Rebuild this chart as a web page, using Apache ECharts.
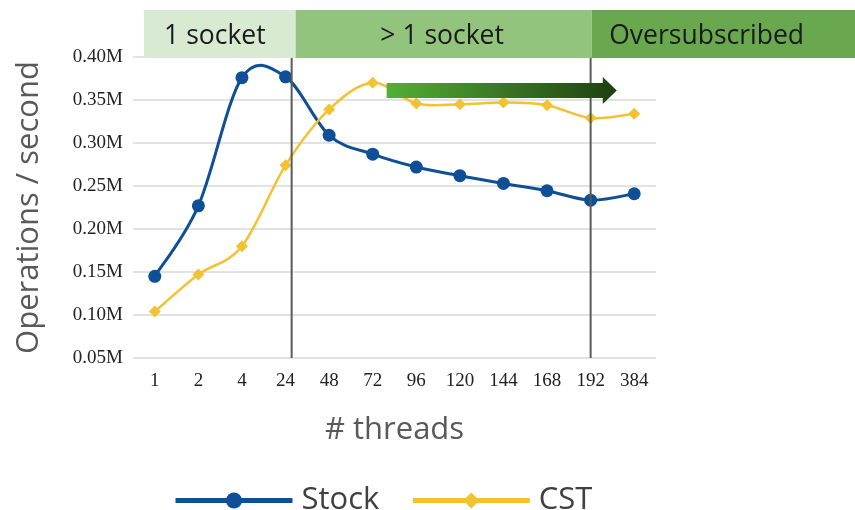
<!DOCTYPE html>
<html>
<head>
<meta charset="utf-8">
<script src="https://cdn.jsdelivr.net/npm/echarts@6/dist/echarts.min.js"></script>
<style>
  html, body { margin: 0; padding: 0; background: #fff; }
  #chart { width: 855px; height: 510px; }
</style>
</head>
<body>
<div id="chart"></div>
<script>
// Thread counts on the x axis
const threads = ['1', '2', '4', '24', '48', '72', '96', '120', '144', '168', '192', '384'];
// Throughput in operations per second
const stockOps = [145000, 227000, 376000, 377000, 309000, 287000, 272000, 262000, 253000, 244500, 233500, 241000];
const cstOps   = [104000, 147000, 180000, 274000, 339000, 370000, 346000, 345000, 347000, 344000, 329000, 334000];
// Y axis range and step
const yMin = 50000, yMax = 400000, yStep = 50000;
// Region banners
const regionLabels = ['1 socket', '> 1 socket', 'Oversubscribed'];

const STOCK_COLOR = '#0e4f96';
const CST_COLOR = '#f2c233';

const chart = echarts.init(document.getElementById('chart'));
const sansFont = '"Open Sans", "Noto Sans", sans-serif';
const serifFont = '"Liberation Serif", "DejaVu Serif", serif';

// Smooth curve through the data points (Catmull-Rom as cubic Bezier segments)
function smoothCurve(values, color, width) {
  return {
    type: 'custom',
    silent: true,
    z: 1,
    data: values.map((v, i) => [i, v]),
    encode: { x: 0, y: 1 },
    renderItem: (params, api) => {
      const i = params.dataIndex;
      const n = values.length;
      if (i >= n - 1) return null;
      const pt = j => {
        const k = Math.max(0, Math.min(n - 1, j));
        return api.coord([k, values[k]]);
      };
      const p0 = pt(i - 1), p1 = pt(i), p2 = pt(i + 1), p3 = pt(i + 2);
      const t = 1 / 6;
      return {
        type: 'bezierCurve',
        shape: {
          x1: p1[0], y1: p1[1], x2: p2[0], y2: p2[1],
          cpx1: p1[0] + (p2[0] - p0[0]) * t, cpy1: p1[1] + (p2[1] - p0[1]) * t,
          cpx2: p2[0] - (p3[0] - p1[0]) * t, cpy2: p2[1] - (p3[1] - p1[1]) * t
        },
        style: { stroke: color, lineWidth: width, fill: null, lineCap: 'round' }
      };
    }
  };
}

chart.setOption({
  animation: false,
  grid: { left: 133, right: 199, top: 57, bottom: 152 },
  legend: {
    data: [
      { name: 'Stock', lineStyle: { color: STOCK_COLOR, width: 5, opacity: 1 } },
      { name: 'CST', lineStyle: { color: CST_COLOR, width: 5, opacity: 1 } }
    ],
    left: 168,
    top: 480,
    itemWidth: 117,
    itemHeight: 20,
    itemGap: 31,
    textStyle: { fontFamily: sansFont, fontSize: 31, color: '#404040', padding: [0, 0, 0, 4] }
  },
  xAxis: {
    type: 'category',
    data: threads,
    boundaryGap: true,
    name: '# threads',
    nameLocation: 'middle',
    nameGap: 57,
    nameTextStyle: { fontFamily: sansFont, fontSize: 31, color: '#595959' },
    axisLine: { show: false },
    axisTick: { show: false },
    axisLabel: { fontFamily: serifFont, fontSize: 19, color: '#222', margin: 14 }
  },
  yAxis: {
    type: 'value',
    min: yMin,
    max: yMax,
    interval: yStep,
    name: 'Operations / second',
    nameLocation: 'middle',
    nameGap: 88,
    nameTextStyle: { fontFamily: sansFont, fontSize: 31, color: '#595959' },
    axisLine: { show: false },
    axisTick: { show: false },
    splitLine: { lineStyle: { color: '#d9d9d9', width: 1.5 } },
    axisLabel: {
      fontFamily: serifFont, fontSize: 19, color: '#222', margin: 10,
      formatter: v => (v / 1e6).toFixed(2) + 'M'
    }
  },
  series: [
    smoothCurve(stockOps, STOCK_COLOR, 3),
    smoothCurve(cstOps, CST_COLOR, 2.5),
    {
      name: 'Stock',
      type: 'line',
      data: stockOps,
      symbol: 'circle',
      symbolSize: 13,
      z: 3,
      itemStyle: { color: STOCK_COLOR },
      lineStyle: { color: STOCK_COLOR, width: 3, opacity: 0 }
    },
    {
      name: 'CST',
      type: 'line',
      data: cstOps,
      symbol: 'diamond',
      symbolSize: 12,
      z: 2,
      itemStyle: { color: CST_COLOR },
      lineStyle: { color: CST_COLOR, width: 2.5, opacity: 0 }
    }
  ]
});

// Region banners, separators and the trend arrow, placed from the axes
function drawAnnotations() {
  const px = (idx, val) => chart.convertToPixel({ gridIndex: 0 }, [idx, val]);
  const band = px(1, yMax)[0] - px(0, yMax)[0];
  const top = px(0, yMax)[1];
  const bottom = px(0, yMin)[1];
  const x24 = px(3, yMax)[0] + band * 0.14;
  const x192 = px(10, yMax)[0];
  const bannerTop = top - 47;
  const bannerLeft = px(0, yMax)[0] - band * 0.25;

  const boxes = [
    { x0: bannerLeft, x1: x24 + 4, fill: '#d9ead3', textX: bannerLeft + 71 },
    { x0: x24 + 4, x1: x192 + 1, fill: '#93c47d', textX: (x24 + x192) / 2 + 1 },
    { x0: x192 + 1, x1: 855, fill: '#6aa84f', textX: x192 + 116 }
  ];

  const graphics = [];
  boxes.forEach((b, k) => {
    graphics.push({
      type: 'rect', z: 5,
      shape: { x: b.x0, y: bannerTop, width: b.x1 - b.x0, height: top - bannerTop + 1 },
      style: { fill: b.fill }
    });
    graphics.push({
      type: 'text', z: 6,
      x: b.textX, y: (bannerTop + top) / 2 + 3,
      style: {
        text: regionLabels[k], fill: '#1a1a1a', font: '26.5px ' + sansFont,
        align: 'center', verticalAlign: 'middle'
      }
    });
  });

  [x24, x192].forEach(x => {
    graphics.push({
      type: 'line', z: 4,
      shape: { x1: x, y1: top, x2: x, y2: bottom },
      style: { stroke: '#5a5a5a', lineWidth: 2 }
    });
  });

  // Gradient arrow across the multi-socket range
  const ax0 = px(5, yMax)[0] + band * 0.32;
  const ax1 = px(10, yMax)[0] + band * 0.6;
  const headX = ax1 - 14;
  const ay = px(0, 361000)[1];
  graphics.push({
    type: 'polygon', z: 7,
    shape: {
      points: [
        [ax0, ay - 7.5], [headX, ay - 7.5], [headX, ay - 13.5], [ax1, ay],
        [headX, ay + 13.5], [headX, ay + 7.5], [ax0, ay + 7.5]
      ]
    },
    style: {
      fill: new echarts.graphic.LinearGradient(0, 0, 1, 0, [
        { offset: 0, color: '#52b034' },
        { offset: 1, color: '#1f3f12' }
      ])
    }
  });

  chart.setOption({ graphic: graphics });
}
drawAnnotations();
</script>
</body>
</html>
